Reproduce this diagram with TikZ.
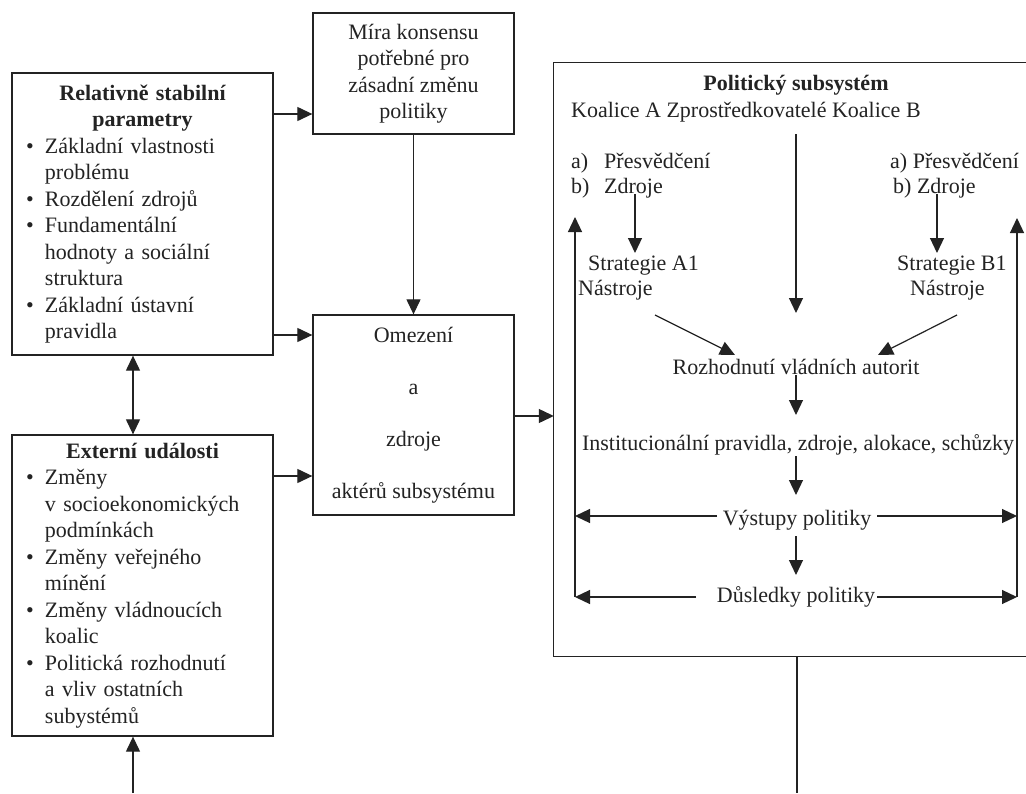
\documentclass[tikz,border=0pt]{standalone}
\usepackage{fontspec}
\setmainfont{Liberation Serif}
\usetikzlibrary{arrows.meta}
\newcommand{\bul}{\makebox[19pt][l]{\textbullet}}
\newcommand{\ind}{\hspace*{19pt}}
\definecolor{ink}{RGB}{35,35,35}
\begin{document}
\begin{tikzpicture}[x=1pt,y=-1pt,
  every node/.style={text=ink},
  txt/.style={font=\fontsize{22}{26.5}\selectfont},
  box/.style={draw=ink, line width=1.3pt, txt, inner ysep=0pt},
  lbl/.style={txt, inner sep=0pt},
  arr/.style={draw=ink, line width=1.2pt, -{Triangle[length=15pt,width=14pt]}},
  darr/.style={draw=ink, line width=1.2pt, {Triangle[length=15pt,width=14pt]}-{Triangle[length=15pt,width=14pt]}},
  ln/.style={draw=ink, line width=1.2pt}]
\useasboundingbox (0,0) rectangle (1026,793);
\fill[white] (0,0) rectangle (1026,793);

% left boxes
\node[box, text width=233pt, inner xsep=14pt, minimum width=261pt, minimum height=282pt] (rsp) at (142.5,214) {%
{\centering\bfseries Relativně stabilní\\parametry\par}%
\raggedright
\bul Základní vlastnosti\\
\ind problému\\
\bul Rozdělení zdrojů\\
\bul Fundamentální\\
\ind hodnoty a sociální\\
\ind struktura\\
\bul Základní ústavní\\
\ind pravidla};

\node[box, text width=233pt, inner xsep=14pt, minimum width=261pt, minimum height=301pt] (ext) at (142.5,585.5) {%
{\centering\bfseries Externí události\par}%
\raggedright
\bul Změny\\
\ind v socioekonomických\\
\ind podmínkách\\
\bul Změny veřejného\\
\ind mínění\\
\bul Změny vládnoucích\\
\ind koalic\\
\bul Politická rozhodnutí\\
\ind a vliv ostatních\\
\ind subystémů};

\node[box, align=center, minimum width=201pt, minimum height=121pt] (mira) at (413.5,73.5)
  {Míra konsensu\\potřebné pro\\zásadní změnu\\politiky};

\node[box, align=center, minimum width=201pt, minimum height=200pt,
  font=\fontsize{22}{52}\selectfont] (omez) at (413.5,415)
  {Omezení\\a\\zdroje\\aktérů subsystému};

% political subsystem frame (right side cut by the picture edge)
\node[minimum width=472pt, minimum height=593pt, inner sep=0pt] (ps) at (790,359.5) {};
\draw[draw=ink, line width=1.3pt] (ps.north east) -- (ps.north west) -- (ps.south west) -- (ps.south east);

% texts inside
\node[lbl, font=\fontsize{22}{26.5}\selectfont\bfseries] (pst) at (796,85) {Politický subsystém};
\node[lbl, anchor=west] (koal) at (571,112) {Koalice A Zprostředkovatelé Koalice B};
\node[lbl, anchor=west] (preA) at (571,163) {\makebox[33pt][l]{a)}Přesvědčení};
\node[lbl, anchor=west] (zdrA) at (571,188) {\makebox[33pt][l]{b)}Zdroje};
\node[lbl, anchor=west] (preB) at (890,163) {a) Přesvědčení};
\node[lbl, anchor=west] (zdrB) at (893,188) {b) Zdroje};
\node[lbl, anchor=west] (strA) at (588,266) {Strategie A1};
\node[lbl, anchor=west] (nasA) at (578,290) {Nástroje};
\node[lbl, anchor=west] (strB) at (897,266) {Strategie B1};
\node[lbl, anchor=west] (nasB) at (910,290) {Nástroje};
\node[lbl] (roz) at (796,367) {Rozhodnutí vládních autorit};
\node[lbl] (inst) at (798,445) {Institucionální pravidla, zdroje, alokace, schůzky};
\node[lbl] (vys) at (797,520) {Výstupy politiky};
\node[lbl] (dus) at (796,597) {Důsledky politiky};

% coordinates
\coordinate (aA1) at (635,194); \coordinate (aA2) at (635,253);
\coordinate (aB1) at (937,194); \coordinate (aB2) at (937,253);
\coordinate (c1) at (796,134); \coordinate (c2) at (796,313);
\coordinate (dA1) at (655,315); \coordinate (dA2) at (735,355);
\coordinate (dB1) at (957,315); \coordinate (dB2) at (878,355);
\coordinate (r1) at (796,375); \coordinate (r2) at (796,415);
\coordinate (i1) at (796,456); \coordinate (i2) at (796,495);
\coordinate (v1) at (796,536); \coordinate (v2) at (796,575);
\coordinate (vL0) at (717,516); \coordinate (vL) at (575,516);
\coordinate (vR0) at (877,516); \coordinate (vR) at (1017,516);
\coordinate (dL0) at (696,597); \coordinate (dL) at (575,597);
\coordinate (dR0) at (877,597); \coordinate (dR) at (1017,597);
\coordinate (upL) at (575,217); \coordinate (upR) at (1017,218);
\coordinate (bot) at (797,793);
\coordinate (botL) at (133,793);

% arrows inside
\draw[arr] (aA1) -- (aA2);
\draw[arr] (aB1) -- (aB2);
\draw[arr] (c1) -- (c2);
\draw[arr] (dA1) -- (dA2);
\draw[arr] (dB1) -- (dB2);
\draw[arr] (r1) -- (r2);
\draw[arr] (i1) -- (i2);
\draw[arr] (v1) -- (v2);
\draw[arr] (vL0) -- (vL);
\draw[arr] (vR0) -- (vR);
\draw[arr] (dL0) -- (dL);
\draw[arr] (dR0) -- (dR);
\draw[arr] (dL) -- (upL);
\draw[arr] (dR) -- (upR);
\draw[ln] (ps.south -| bot) -- (bot);

% arrows outside
\draw[arr] (rsp.east |- 0,114) -- (mira.west |- 0,114);
\draw[arr] (rsp.east |- 0,335) -- (omez.west |- 0,335);
\draw[arr] (ext.east |- 0,476) -- (omez.west |- 0,476);
\draw[arr] (omez.east |- 0,416) -- (ps.west |- 0,416);
\draw[arr] (mira.south) -- (omez.north);
\draw[darr] (rsp.south -| 133,0) -- (ext.north -| 133,0);
\draw[arr] (botL) -- (ext.south -| botL);
\end{tikzpicture}
\end{document}
